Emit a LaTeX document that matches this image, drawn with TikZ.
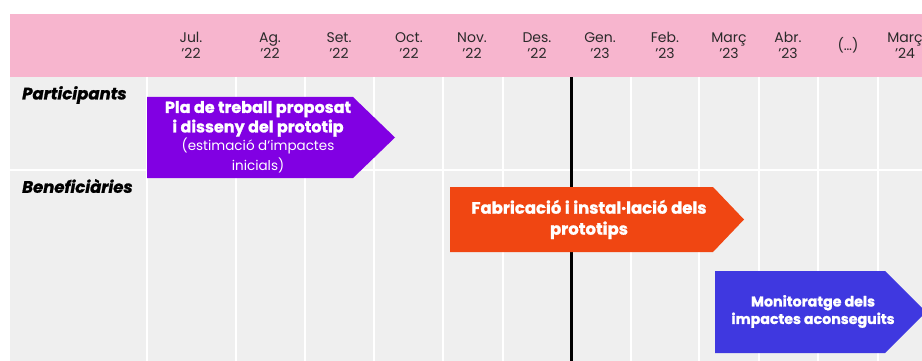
\documentclass[tikz,border=0pt]{standalone}
\usepackage{fontspec}
\setmainfont{Poppins}[BoldFeatures={FakeBold=1.2},BoldItalicFeatures={FakeBold=1.2}]
\definecolor{pinkhead}{HTML}{F7B5CE}
\definecolor{gridgrey}{HTML}{EFEFEF}
\definecolor{purplebox}{HTML}{8100E3}
\definecolor{orangebox}{HTML}{F04612}
\definecolor{bluebox}{HTML}{3F38E0}
\definecolor{monthtext}{HTML}{2A2A2A}
\begin{document}
\begin{tikzpicture}[x=1pt,y=-1pt,
  month/.style={font=\fontsize{14}{15.5}\selectfont, align=center, text=monthtext, inner sep=0pt},
  rowlab/.style={font=\fontsize{16.5}{18}\selectfont\bfseries\itshape, anchor=west, inner sep=0pt},
  gridline/.style={draw=white, line width=1.5pt},
  boxtext/.style={text=white, align=center, inner sep=0pt}]
\useasboundingbox (0,0) rectangle (922,361);
\begin{scope}
\clip (0,0) rectangle (922,361);
% header and grid background
\fill[pinkhead] (10,14) rectangle (930,77);
\fill[gridgrey] (10,77) rectangle (930,361);
\foreach \x in {147,236,305,374,443,503,631,699,759,818,878}
  \draw[gridline] (\x,77) -- (\x,361);
\draw[gridline] (10,170) -- (930,170);
% current date line
\coordinate (nowtop) at (571,77);
\coordinate (nowbot) at (571,361);
\draw[black, line width=3pt] (nowtop) -- (nowbot);
% month labels
\node[month] (m1) at (191,45.5) {Jul.\\’22};
\node[month] (m2) at (270,45.5) {Ag.\\’22};
\node[month] (m3) at (339,45.5) {Set.\\’22};
\node[month] (m4) at (409,45.5) {Oct.\\’22};
\node[month] (m5) at (472,45.5) {Nov.\\’22};
\node[month] (m6) at (537,45.5) {Des.\\’22};
\node[month] (m7) at (600,45.5) {Gen.\\’23};
\node[month] (m8) at (665,45.5) {Feb.\\’23};
\node[month] (m9) at (729,45.5) {Març\\’23};
\node[month] (m10) at (788,45.5) {Abr.\\’23};
\node[month] (m11) at (848,45.5) {(…)};
\node[month] (m12) at (905,45.5) {Març\\’24};
% row labels
\node[rowlab] (r1) at (22,95) {Participants};
\node[rowlab] (r2) at (22,186) {Beneficiàries};
% task arrows
\fill[purplebox] (147,97) -- (353,97) -- (395,137.5) -- (353,178) -- (147,178) -- cycle;
\node[boxtext, font=\fontsize{16}{19.5}\selectfont\bfseries] (t1) at (258,137)
  {Pla de treball proposat\\i disseny del prototip\\[-1pt]\fontsize{13.5}{18}\selectfont\mdseries (estimació d’impactes\\\fontsize{13.5}{18}\selectfont\mdseries inicials)};
\fill[orangebox] (450,187) -- (713,187) -- (744,219.5) -- (713,252) -- (450,252) -- cycle;
\node[boxtext, font=\fontsize{16.5}{21}\selectfont\bfseries] (t2) at (589,219.5) {Fabricació i instal·lació dels\\prototips};
\fill[bluebox] (715,271) -- (885,271) -- (926,312) -- (885,353) -- (715,353) -- cycle;
\node[boxtext, font=\fontsize{14.2}{17.5}\selectfont\bfseries] (t3) at (813,311.5) {Monitoratge dels\\impactes aconseguits};
\end{scope}
\end{tikzpicture}
\end{document}
